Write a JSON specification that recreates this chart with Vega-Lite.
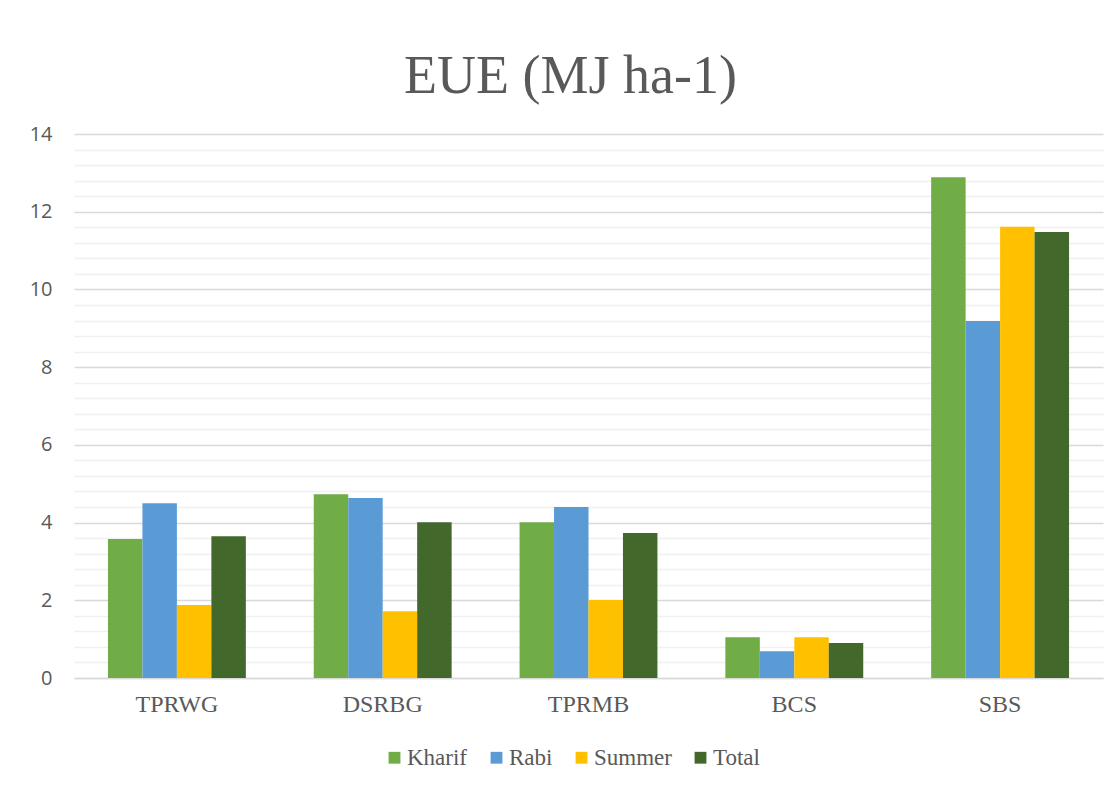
{
  "$schema": "https://vega.github.io/schema/vega-lite/v6.json",
  "autosize": {"type": "none"},
  "padding": {"left": 74, "top": 134, "right": 16, "bottom": 107},
  "width": 1029,
  "height": 544,
  "background": "white",
  "title": {
    "text": "EUE (MJ ha-1)",
    "font": "Liberation Serif",
    "fontSize": 54,
    "fontWeight": "normal",
    "color": "#595959",
    "anchor": "middle",
    "frame": "group",
    "baseline": "alphabetic",
    "offset": -23,
    "dx": -18
  },
  "data": {
    "values": [
      {"site": "TPRWG", "season": "Kharif", "value": 3.58},
      {"site": "TPRWG", "season": "Rabi", "value": 4.50},
      {"site": "TPRWG", "season": "Summer", "value": 1.88},
      {"site": "TPRWG", "season": "Total", "value": 3.65},
      {"site": "DSRBG", "season": "Kharif", "value": 4.73},
      {"site": "DSRBG", "season": "Rabi", "value": 4.63},
      {"site": "DSRBG", "season": "Summer", "value": 1.72},
      {"site": "DSRBG", "season": "Total", "value": 4.01},
      {"site": "TPRMB", "season": "Kharif", "value": 4.01},
      {"site": "TPRMB", "season": "Rabi", "value": 4.40},
      {"site": "TPRMB", "season": "Summer", "value": 2.01},
      {"site": "TPRMB", "season": "Total", "value": 3.73},
      {"site": "BCS", "season": "Kharif", "value": 1.05},
      {"site": "BCS", "season": "Rabi", "value": 0.69},
      {"site": "BCS", "season": "Summer", "value": 1.05},
      {"site": "BCS", "season": "Total", "value": 0.90},
      {"site": "SBS", "season": "Kharif", "value": 12.89},
      {"site": "SBS", "season": "Rabi", "value": 9.19},
      {"site": "SBS", "season": "Summer", "value": 11.61},
      {"site": "SBS", "season": "Total", "value": 11.48}
    ]
  },
  "mark": {"type": "bar"},
  "encoding": {
    "x": {
      "field": "site",
      "type": "nominal",
      "sort": ["TPRWG", "DSRBG", "TPRMB", "BCS", "SBS"],
      "scale": {"paddingInner": 0.33, "paddingOuter": 0.165},
      "axis": {
        "title": null,
        "labelAngle": 0,
        "labelFont": "Liberation Serif",
        "labelFontSize": 24,
        "labelColor": "#595959",
        "labelPadding": 14,
        "ticks": false,
        "domain": true,
        "domainColor": "#d9d9d9",
        "domainWidth": 1.5
      }
    },
    "xOffset": {
      "field": "season",
      "type": "nominal",
      "sort": ["Kharif", "Rabi", "Summer", "Total"],
      "scale": {"paddingInner": 0, "paddingOuter": 0}
    },
    "y": {
      "field": "value",
      "type": "quantitative",
      "scale": {"domain": [0, 14], "nice": false},
      "axis": {
        "title": null,
        "values": [0, 0.4, 0.8, 1.2, 1.6, 2, 2.4, 2.8, 3.2, 3.6, 4, 4.4, 4.8, 5.2, 5.6, 6, 6.4, 6.8, 7.2, 7.6, 8, 8.4, 8.8, 9.2, 9.6, 10, 10.4, 10.8, 11.2, 11.6, 12, 12.4, 12.8, 13.2, 13.6, 14],
        "labelExpr": "abs(datum.value % 2) < 0.001 ? format(datum.value, 'd') : ''",
        "labelFont": "Open Sans",
        "labelFontSize": 20,
        "labelColor": "#595959",
        "labelPadding": 22,
        "ticks": false,
        "domain": false,
        "grid": true,
        "gridColor": {"condition": {"test": "abs(datum.value % 2) < 0.001", "value": "#d9d9d9"}, "value": "#f0f0f0"},
        "gridWidth": 1.5
      }
    },
    "color": {
      "field": "season",
      "type": "nominal",
      "sort": ["Kharif", "Rabi", "Summer", "Total"],
      "scale": {
        "domain": ["Kharif", "Rabi", "Summer", "Total"],
        "range": ["#70AD47", "#5B9BD5", "#FFC000", "#43682B"]
      },
      "legend": {
        "title": null,
        "orient": "none",
        "legendX": 309,
        "legendY": 612,
        "direction": "horizontal",
        "symbolType": "square",
        "symbolSize": 140,
        "symbolStrokeWidth": 0,
        "labelFont": "Liberation Serif",
        "labelFontSize": 23,
        "labelColor": "#595959",
        "labelOffset": 1,
        "columnPadding": 17
      }
    }
  },
  "config": {
    "view": {"stroke": null}
  }
}
